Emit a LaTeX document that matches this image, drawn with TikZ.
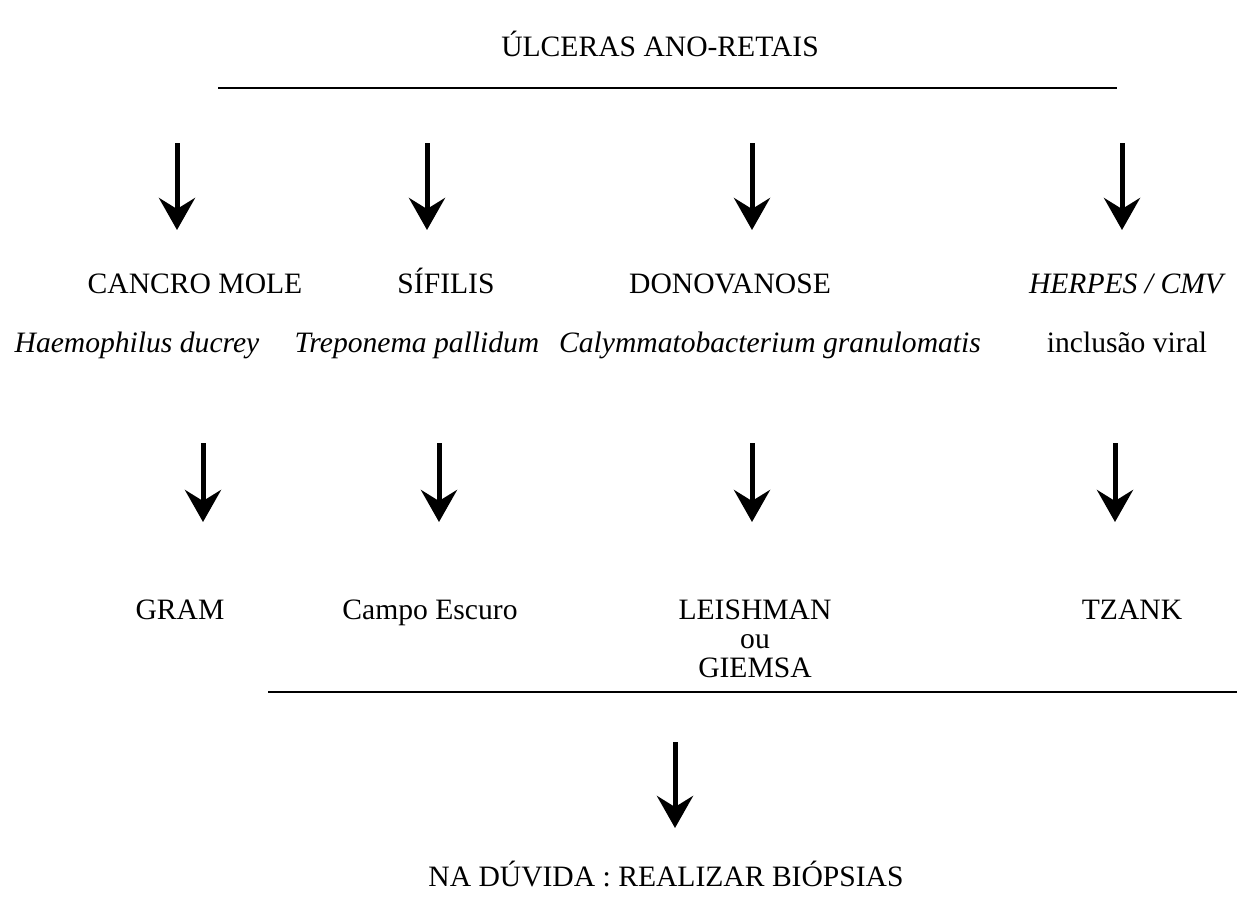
\documentclass[tikz,border=0pt]{standalone}
\usepackage{fontspec}
\setmainfont{Liberation Serif}
\usetikzlibrary{arrows.meta}
\tikzset{
  lbl/.style={inner sep=0pt, font=\fontsize{29.6}{34}\selectfont, anchor=base},
  itl/.style={lbl, font=\fontsize{29.6}{34}\selectfont\itshape},
  arr/.style={line width=5pt, -{Stealth[length=32pt,width=36pt,inset=11pt]}},
  rule/.style={line width=2.2pt}
}
\begin{document}
\begin{tikzpicture}[x=1pt,y=-1pt]
\useasboundingbox (0,0) rectangle (1237,910);
\node[lbl] (title) at (660,56) {ÚLCERAS ANO-RETAIS};
\coordinate (t1) at (218,88); \coordinate (t2) at (1117,88);
\draw[rule] (t1) -- (t2);
% row 1 arrows
\foreach \n/\x in {a/177,b/427,c/752,d/1122}{
  \coordinate (\n s) at (\x,143); \coordinate (\n e) at (\x,230);
  \draw[arr] (\n s) -- (\n e);
}
\node[lbl] (cm) at (195,293) {CANCRO MOLE};
\node[lbl] (sf) at (446,293) {SÍFILIS};
\node[lbl] (dn) at (730,293) {DONOVANOSE};
\node[itl] (hp) at (1126,293) {HERPES / CMV};
\node[itl] (hd) at (137,352) {Haemophilus ducrey};
\node[itl] (tp) at (417,352) {Treponema pallidum};
\node[itl] (cg) at (770,352) {Calymmatobacterium granulomatis};
\node[lbl] (iv) at (1127,352) {inclusão viral};
% row 2 arrows
\foreach \n/\x in {e/203,f/439,g/752,h/1115}{
  \coordinate (\n s) at (\x,443); \coordinate (\n e) at (\x,522);
  \draw[arr] (\n s) -- (\n e);
}
\node[lbl] (gr) at (180,619) {GRAM};
\node[lbl] (ce) at (430,619) {Campo Escuro};
\node[lbl] (le) at (755,619) {LEISHMAN};
\node[lbl] (ou) at (755,648) {ou};
\node[lbl] (gi) at (755,677) {GIEMSA};
\node[lbl] (tz) at (1132,619) {TZANK};
\coordinate (b1) at (268,692); \coordinate (b2) at (1237,692);
\draw[rule] (b1) -- (b2);
\coordinate (fs) at (675,742); \coordinate (fe) at (675,828);
\draw[arr] (fs) -- (fe);
\node[lbl] (fin) at (666,886) {NA DÚVIDA : REALIZAR BIÓPSIAS};
\end{tikzpicture}
\end{document}
